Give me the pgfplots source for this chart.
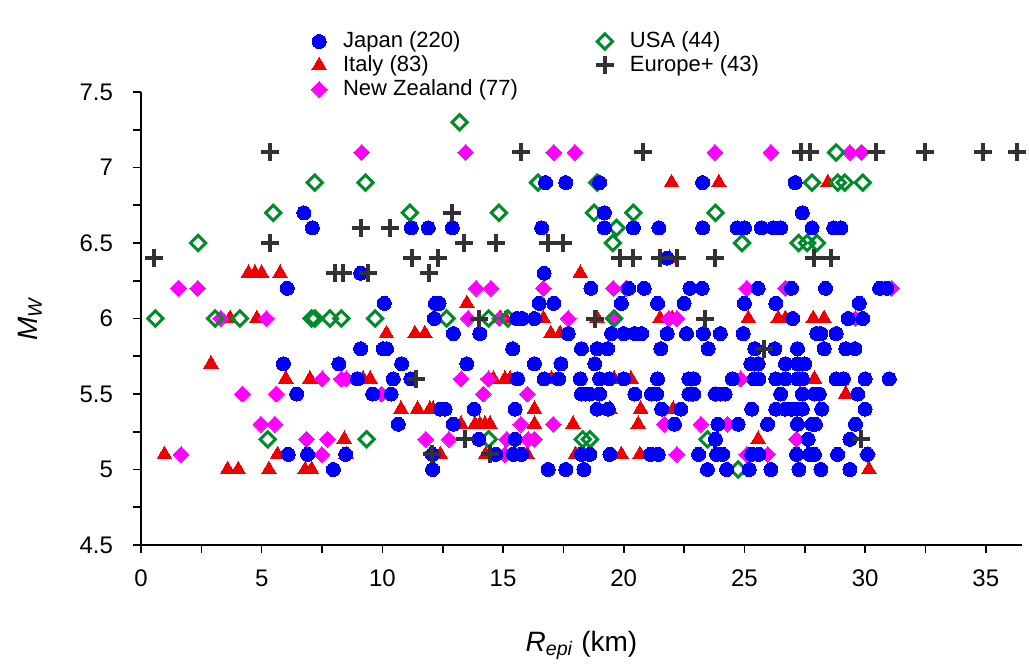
\documentclass[border=0pt]{standalone}
\usepackage{fontspec}
\setmainfont{Liberation Sans}
\usepackage{pgfplots}
\pgfplotsset{compat=1.18}

\definecolor{jpblue}{RGB}{0,0,250}
\definecolor{itred}{RGB}{240,0,0}
\definecolor{nzmag}{RGB}{255,0,255}
\definecolor{usgreen}{RGB}{0,140,40}
\definecolor{eugray}{RGB}{50,50,50}

\pgfplotsset{
  japan/.style={only marks, mark=*, mark size=3.5pt, mark options={draw=jpblue, fill=jpblue, line width=0pt}},
  italy/.style={only marks, mark=triangle*, mark size=4.2pt, mark options={draw=itred, fill=itred, line width=0pt}},
  nzl/.style={only marks, mark=square*, mark size=2.8pt, mark options={draw=nzmag, fill=nzmag, rotate=45, line width=0pt}},
  usa/.style={only marks, mark=square, mark size=2.7pt, mark options={draw=usgreen, rotate=45, line width=1.5pt}},
  europe/.style={only marks, mark=+, mark size=4.5pt, mark options={draw=eugray, line width=2pt}},
}

\begin{document}
\begin{tikzpicture}
\path[use as bounding box] (-70.5pt,-62.5pt) rectangle (444.5pt,272.5pt);
\begin{axis}[
  anchor=south west, at={(0,0)},
  scale only axis, width=440.5pt, height=226.5pt,
  xmin=0, xmax=36.5, ymin=4.5, ymax=7.5,
  xtick={0,5,...,35}, ytick={4.5,5,...,7.5},
  minor x tick num=1, minor y tick num=1,
  axis x line*=bottom, axis y line*=left,
  axis line style={line width=0.9pt, black},
  tick align=outside,
  major tick length=4pt, minor tick length=4pt,
  tick style={line width=0.8pt, black},
  /pgf/number format/assume math mode=true,
  /pgf/number format/fixed,
  tick label style={font=\fontsize{12}{14}\selectfont},
  yticklabel style={xshift=-6.5pt},
  xticklabel style={yshift=-5pt},
  xlabel={\textit{R}\textsubscript{\textit{epi}} (km)},
  ylabel={\textit{M}\textsubscript{\textit{W}}},
  label style={font=\fontsize{14}{16}\selectfont},
  xlabel style={at={(axis description cs:0.5,-0.221)}, anchor=center},
  ylabel style={at={(axis description cs:-0.126,0.5)}, anchor=center},
  clip=false,
  legend columns=2,
  legend cell align=left,
  legend style={at={(0.186,1.151)}, anchor=north west, draw=none, fill=none,
    font=\fontsize{11}{13}\selectfont, column sep=6pt, row sep=-1.5pt,
    /tikz/every even column/.append style={column sep=37pt}},
]
% Italy
\addplot[italy, forget plot] coordinates {
(21.98,6.9) (23.94,6.9) (28.46,6.9) (21.9,6.4)
(4.45,6.3) (4.72,6.3) (5.0,6.3) (5.76,6.3) (18.2,6.3)
(13.5,6.1)
(3.69,6.0) (4.8,6.0) (14.9,6.0) (15.1,6.0) (16.67,6.0) (18.9,6.0) (21.5,6.0) (22.0,6.0) (25.16,6.0) (26.4,6.0) (26.7,6.0) (27.85,6.0) (28.3,6.0)
(10.17,5.9) (11.35,5.9) (11.76,5.9) (16.98,5.9) (17.36,5.9)
(2.9,5.7)
(6.0,5.6) (7.0,5.6) (9.2,5.6) (9.49,5.6) (14.6,5.6) (15.08,5.6) (15.29,5.6) (17.0,5.6) (19.6,5.6) (20.3,5.6) (27.9,5.6)
(29.2,5.5)
(10.77,5.4) (11.46,5.4) (11.97,5.4) (12.1,5.4) (16.3,5.4) (19.43,5.4) (20.7,5.4) (22.05,5.4)
(13.26,5.3) (13.84,5.3) (14.04,5.3) (14.25,5.3) (14.46,5.3) (16.3,5.3) (17.9,5.3) (20.6,5.3)
(8.42,5.2) (25.57,5.2)
(0.97,5.1) (5.66,5.1) (8.5,5.1) (12.4,5.1) (14.28,5.1) (16.0,5.1) (18.0,5.1) (19.9,5.1) (20.67,5.1)
(3.59,5.0) (4.03,5.0) (5.3,5.0) (6.8,5.0) (7.07,5.0) (30.16,5.0)
};
% New Zealand
\addplot[nzl, forget plot] coordinates {
(9.14,7.1) (13.45,7.1) (17.1,7.1) (17.98,7.1) (23.78,7.1) (26.1,7.1) (29.37,7.1) (29.85,7.1)
(1.55,6.2) (2.35,6.2) (13.88,6.2) (14.5,6.2) (16.67,6.2) (19.57,6.2) (20.1,6.2) (25.1,6.2) (26.7,6.2) (31.1,6.2)
(3.3,6.0) (5.2,6.0) (13.56,6.0) (14.85,6.0) (17.7,6.0) (19.6,6.0) (21.87,6.0) (22.2,6.0) (29.6,6.0)
(7.5,5.6) (8.3,5.6) (8.5,5.6) (13.26,5.6) (14.4,5.6) (24.85,5.6) (27.3,5.6)
(4.2,5.5) (5.6,5.5) (9.97,5.5) (14.18,5.5) (16.0,5.5) (22.8,5.5) (23.8,5.5)
(4.97,5.3) (5.55,5.3) (15.74,5.3) (17.08,5.3) (21.68,5.3) (23.2,5.3) (24.3,5.3)
(6.86,5.2) (7.73,5.2) (11.8,5.2) (12.76,5.2) (15.15,5.2) (16.04,5.2) (16.3,5.2) (27.16,5.2)
(1.66,5.1) (7.49,5.1) (15.08,5.1) (22.2,5.1) (25.1,5.1) (25.96,5.1) (27.2,5.1) (30.1,5.1)
};
% USA
\addplot[usa, forget plot] coordinates {
(13.2,7.3) (28.8,7.1)
(7.2,6.9) (9.3,6.9) (16.45,6.9) (18.9,6.9) (27.8,6.9) (28.87,6.9) (29.16,6.9) (29.9,6.9)
(5.48,6.7) (11.14,6.7) (14.83,6.7) (18.77,6.7) (20.4,6.7) (23.8,6.7)
(19.7,6.6)
(2.37,6.5) (19.55,6.5) (24.9,6.5) (27.25,6.5) (27.6,6.5) (28.0,6.5)
(0.6,6.0) (3.07,6.0) (4.1,6.0) (7.07,6.0) (7.2,6.0) (7.83,6.0) (8.3,6.0) (9.7,6.0) (12.66,6.0) (14.4,6.0) (15.2,6.0) (19.6,6.0)
(5.25,5.2) (9.35,5.2) (14.4,5.2) (18.3,5.2) (18.6,5.2) (23.47,5.2)
(24.74,5.0)
};
% Japan
\addplot[japan, forget plot] coordinates {
(16.76,6.9) (17.6,6.9) (19.0,6.9) (23.27,6.9) (27.1,6.9)
(6.75,6.7) (19.2,6.7) (27.4,6.7)
(7.1,6.6) (11.2,6.6) (11.9,6.6) (12.9,6.6) (16.6,6.6) (19.2,6.6) (20.4,6.6) (21.46,6.6) (23.27,6.6) (24.7,6.6) (25.0,6.6) (25.7,6.6) (26.2,6.6) (26.5,6.6) (27.8,6.6) (28.7,6.6) (29.0,6.6)
(21.8,6.4)
(9.1,6.3) (16.7,6.3)
(6.06,6.2) (18.64,6.2) (20.2,6.2) (20.85,6.2) (22.74,6.2) (23.25,6.2) (25.57,6.2) (26.95,6.2) (28.36,6.2) (30.6,6.2) (30.9,6.2)
(10.08,6.1) (12.2,6.1) (12.35,6.1) (16.5,6.1) (17.1,6.1) (19.9,6.1) (21.4,6.1) (22.5,6.1) (25.0,6.1) (26.3,6.1) (29.76,6.1)
(12.15,6.0) (15.56,6.0) (15.8,6.0) (16.3,6.0) (27.0,6.0) (29.3,6.0) (29.9,6.0)
(12.94,5.9) (14.04,5.9) (17.7,5.9) (19.5,5.9) (20.0,5.9) (20.46,5.9) (20.74,5.9) (21.8,5.9) (22.6,5.9) (23.3,5.9) (24.0,5.9) (24.95,5.9) (28.0,5.9) (28.17,5.9) (28.8,5.9)
(9.1,5.8) (10.04,5.8) (10.17,5.8) (15.4,5.8) (18.25,5.8) (18.9,5.8) (19.33,5.8) (21.54,5.8) (23.5,5.8) (25.43,5.8) (26.26,5.8) (27.2,5.8) (28.3,5.8) (29.2,5.8) (29.58,5.8)
(5.9,5.7) (8.2,5.7) (10.8,5.7) (13.5,5.7) (16.3,5.7) (17.4,5.7) (18.8,5.7) (25.27,5.7) (25.57,5.7) (26.7,5.7) (27.2,5.7) (27.5,5.7)
(8.97,5.6) (10.45,5.6) (11.18,5.6) (15.6,5.6) (16.7,5.6) (17.3,5.6) (18.2,5.6) (19.0,5.6) (19.4,5.6) (20.0,5.6) (21.4,5.6) (22.7,5.6) (22.9,5.6) (24.5,5.6) (25.4,5.6) (25.6,5.6) (26.3,5.6) (26.7,5.6) (27.2,5.6) (27.4,5.6) (28.8,5.6) (29.1,5.6) (30.0,5.6) (31.0,5.6)
(6.45,5.5) (9.6,5.5) (10.36,5.5) (18.25,5.5) (18.4,5.5) (18.6,5.5) (19.0,5.5) (20.46,5.5) (21.15,5.5) (21.36,5.5) (22.7,5.5) (22.9,5.5) (23.8,5.5) (24.0,5.5) (24.2,5.5) (26.5,5.5) (27.4,5.5) (27.9,5.5) (28.1,5.5) (29.7,5.5)
(12.4,5.4) (12.6,5.4) (13.8,5.4) (15.5,5.4) (18.9,5.4) (19.36,5.4) (21.57,5.4) (22.37,5.4) (25.3,5.4) (26.3,5.4) (26.7,5.4) (26.95,5.4) (27.16,5.4) (27.4,5.4) (28.2,5.4) (30.0,5.4)
(10.66,5.3) (12.94,5.3) (22.1,5.3) (23.9,5.3) (24.74,5.3) (25.96,5.3) (27.2,5.3) (27.8,5.3) (27.94,5.3) (29.6,5.3)
(14.0,5.2) (15.5,5.2) (23.8,5.2) (27.64,5.2) (29.37,5.2)
(6.1,5.1) (6.9,5.1) (8.48,5.1) (12.07,5.1) (14.7,5.1) (15.42,5.1) (15.77,5.1) (18.25,5.1) (18.6,5.1) (19.43,5.1) (21.1,5.1) (21.43,5.1) (23.1,5.1) (23.85,5.1) (24.1,5.1) (25.3,5.1) (25.6,5.1) (27.16,5.1) (27.7,5.1) (27.9,5.1) (28.86,5.1) (30.1,5.1)
(7.97,5.0) (12.08,5.0) (16.87,5.0) (17.6,5.0) (18.35,5.0) (23.47,5.0) (24.26,5.0) (25.2,5.0) (26.1,5.0) (27.26,5.0) (28.17,5.0) (29.37,5.0)
};
% Europe+
\addplot[europe, forget plot] coordinates {
(5.35,7.1) (15.74,7.1) (20.8,7.1) (27.34,7.1) (27.7,7.1) (30.45,7.1) (32.5,7.1) (34.9,7.1) (36.3,7.1)
(12.9,6.7) (9.1,6.6) (10.3,6.6)
(5.35,6.5) (13.4,6.5) (14.7,6.5) (16.85,6.5) (17.5,6.5)
(0.55,6.4) (11.24,6.4) (12.3,6.4) (19.84,6.4) (20.4,6.4) (21.5,6.4) (22.2,6.4) (23.8,6.4) (27.9,6.4) (28.6,6.4)
(8.04,6.3) (8.38,6.3) (9.4,6.3) (11.93,6.3)
(14.0,6.0) (18.8,6.0) (23.36,6.0)
(25.8,5.8) (11.4,5.6)
(13.42,5.2) (29.85,5.2)
(12.07,5.1) (14.46,5.1)
};
\addlegendimage{japan}
\addlegendentry{Japan (220)}
\addlegendimage{usa}
\addlegendentry{USA (44)}
\addlegendimage{italy}
\addlegendentry{Italy (83)}
\addlegendimage{europe}
\addlegendentry{Europe+ (43)}
\addlegendimage{nzl}
\addlegendentry{New Zealand (77)}
\end{axis}
\end{tikzpicture}
\end{document}
